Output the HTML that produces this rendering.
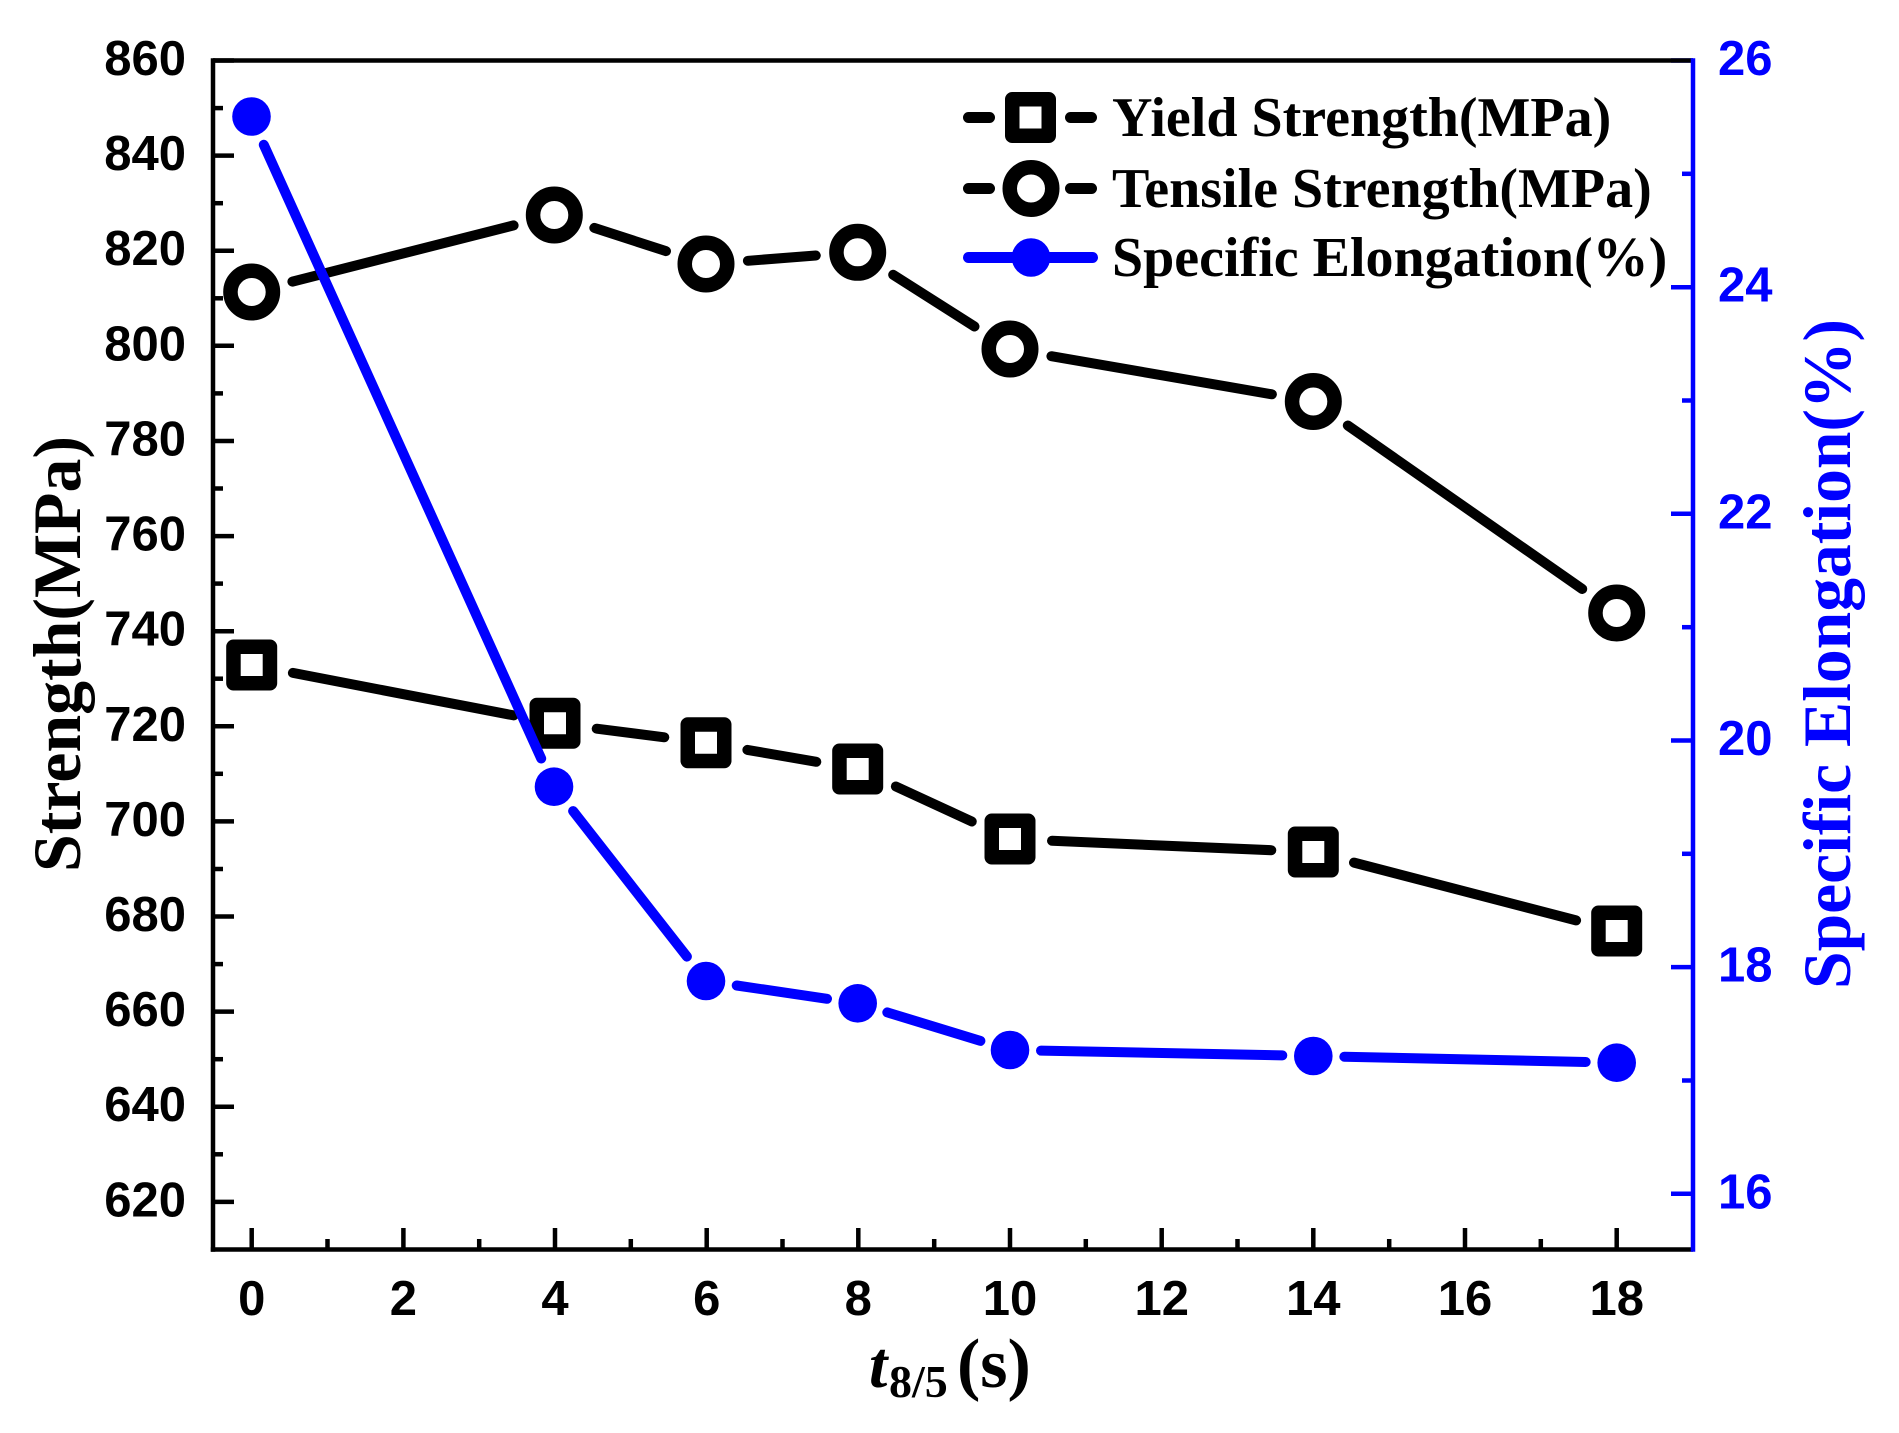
<!DOCTYPE html>
<html>
<head>
<meta charset="utf-8">
<style>
html,body{margin:0;padding:0;background:#fff;}
svg{display:block;}
.tl{font-family:"Liberation Sans",Arial,sans-serif;font-weight:bold;font-size:49px;}
.ser{font-family:"Liberation Serif","Times New Roman",serif;font-weight:bold;}
</style>
</head>
<body>
<svg width="1899" height="1433" viewBox="0 0 1899 1433" xmlns="http://www.w3.org/2000/svg">
<rect width="1899" height="1433" fill="#fff"/>
<g stroke="#000" stroke-width="4.5">
<line x1="213" y1="60.5" x2="234" y2="60.5"/>
<line x1="213" y1="155.6" x2="234" y2="155.6"/>
<line x1="213" y1="250.7" x2="234" y2="250.7"/>
<line x1="213" y1="345.8" x2="234" y2="345.8"/>
<line x1="213" y1="441" x2="234" y2="441"/>
<line x1="213" y1="536.1" x2="234" y2="536.1"/>
<line x1="213" y1="631.2" x2="234" y2="631.2"/>
<line x1="213" y1="726.3" x2="234" y2="726.3"/>
<line x1="213" y1="821.4" x2="234" y2="821.4"/>
<line x1="213" y1="916.5" x2="234" y2="916.5"/>
<line x1="213" y1="1011.6" x2="234" y2="1011.6"/>
<line x1="213" y1="1106.7" x2="234" y2="1106.7"/>
<line x1="213" y1="1201.9" x2="234" y2="1201.9"/>
<line x1="213" y1="108.1" x2="223" y2="108.1"/>
<line x1="213" y1="203.2" x2="223" y2="203.2"/>
<line x1="213" y1="298.3" x2="223" y2="298.3"/>
<line x1="213" y1="393.4" x2="223" y2="393.4"/>
<line x1="213" y1="488.5" x2="223" y2="488.5"/>
<line x1="213" y1="583.6" x2="223" y2="583.6"/>
<line x1="213" y1="678.7" x2="223" y2="678.7"/>
<line x1="213" y1="773.8" x2="223" y2="773.8"/>
<line x1="213" y1="869" x2="223" y2="869"/>
<line x1="213" y1="964.1" x2="223" y2="964.1"/>
<line x1="213" y1="1059.2" x2="223" y2="1059.2"/>
<line x1="213" y1="1154.3" x2="223" y2="1154.3"/>
<line x1="251.7" y1="1249.5" x2="251.7" y2="1228"/>
<line x1="403.4" y1="1249.5" x2="403.4" y2="1228"/>
<line x1="555" y1="1249.5" x2="555" y2="1228"/>
<line x1="706.7" y1="1249.5" x2="706.7" y2="1228"/>
<line x1="858.3" y1="1249.5" x2="858.3" y2="1228"/>
<line x1="1010" y1="1249.5" x2="1010" y2="1228"/>
<line x1="1161.7" y1="1249.5" x2="1161.7" y2="1228"/>
<line x1="1313.3" y1="1249.5" x2="1313.3" y2="1228"/>
<line x1="1465" y1="1249.5" x2="1465" y2="1228"/>
<line x1="1616.7" y1="1249.5" x2="1616.7" y2="1228"/>
<line x1="327.5" y1="1249.5" x2="327.5" y2="1239"/>
<line x1="479.2" y1="1249.5" x2="479.2" y2="1239"/>
<line x1="630.8" y1="1249.5" x2="630.8" y2="1239"/>
<line x1="782.5" y1="1249.5" x2="782.5" y2="1239"/>
<line x1="934.2" y1="1249.5" x2="934.2" y2="1239"/>
<line x1="1085.8" y1="1249.5" x2="1085.8" y2="1239"/>
<line x1="1237.5" y1="1249.5" x2="1237.5" y2="1239"/>
<line x1="1389.2" y1="1249.5" x2="1389.2" y2="1239"/>
<line x1="1540.8" y1="1249.5" x2="1540.8" y2="1239"/>
</g>
<g stroke="#0000ff" stroke-width="4.5">
<line x1="1693" y1="60.5" x2="1671" y2="60.5"/>
<line x1="1693" y1="287.2" x2="1671" y2="287.2"/>
<line x1="1693" y1="513.8" x2="1671" y2="513.8"/>
<line x1="1693" y1="740.5" x2="1671" y2="740.5"/>
<line x1="1693" y1="967.1" x2="1671" y2="967.1"/>
<line x1="1693" y1="1193.8" x2="1671" y2="1193.8"/>
<line x1="1693" y1="173.8" x2="1682" y2="173.8"/>
<line x1="1693" y1="400.5" x2="1682" y2="400.5"/>
<line x1="1693" y1="627.2" x2="1682" y2="627.2"/>
<line x1="1693" y1="853.8" x2="1682" y2="853.8"/>
<line x1="1693" y1="1080.5" x2="1682" y2="1080.5"/>
</g>
<line x1="213" y1="60.5" x2="1693" y2="60.5" stroke="#000" stroke-width="4.5"/>
<line x1="213" y1="58.3" x2="213" y2="1251.7" stroke="#000" stroke-width="4.5"/>
<line x1="210.8" y1="1249.5" x2="1693" y2="1249.5" stroke="#000" stroke-width="4.5"/>
<line x1="1693" y1="58.3" x2="1693" y2="1251.7" stroke="#0000ff" stroke-width="4.5"/>
<g class="tl" text-anchor="end" fill="#000">
<text x="186" y="75">860</text>
<text x="186" y="170.1">840</text>
<text x="186" y="265.2">820</text>
<text x="186" y="360.3">800</text>
<text x="186" y="455.5">780</text>
<text x="186" y="550.6">760</text>
<text x="186" y="645.7">740</text>
<text x="186" y="740.8">720</text>
<text x="186" y="835.9">700</text>
<text x="186" y="931">680</text>
<text x="186" y="1026.1">660</text>
<text x="186" y="1121.2">640</text>
<text x="186" y="1216.4">620</text>
</g>
<g class="tl" text-anchor="middle" fill="#000">
<text x="251.7" y="1315">0</text>
<text x="403.4" y="1315">2</text>
<text x="555" y="1315">4</text>
<text x="706.7" y="1315">6</text>
<text x="858.3" y="1315">8</text>
<text x="1010" y="1315">10</text>
<text x="1161.7" y="1315">12</text>
<text x="1313.3" y="1315">14</text>
<text x="1465" y="1315">16</text>
<text x="1616.7" y="1315">18</text>
</g>
<g class="tl" text-anchor="start" fill="#0000ff">
<text x="1718" y="75">26</text>
<text x="1718" y="301.7">24</text>
<text x="1718" y="528.3">22</text>
<text x="1718" y="755">20</text>
<text x="1718" y="981.6">18</text>
<text x="1718" y="1208.3">16</text>
</g>
<text class="ser" font-size="68" text-anchor="middle" fill="#000" transform="translate(80,654) rotate(-90)" textLength="436" lengthAdjust="spacingAndGlyphs">Strength(MPa)</text>
<text class="ser" font-size="68" text-anchor="middle" fill="#0000ff" transform="translate(1850,654) rotate(-90)" textLength="670" lengthAdjust="spacingAndGlyphs">Specific Elongation(%)</text>
<text class="ser" font-style="italic" font-size="66" x="869" y="1387" fill="#000">t</text>
<text class="ser" font-size="46" x="889" y="1397" fill="#000">8/5</text>
<text class="ser" font-size="70" x="957" y="1387" fill="#000">(s)</text>
<g stroke="#000" stroke-width="10" stroke-linecap="round" fill="none">
<line x1="292.9" y1="672.9" x2="513.8" y2="715.4"/>
<line x1="596.7" y1="728.7" x2="664.3" y2="737.3"/>
<line x1="747.4" y1="749.9" x2="816.3" y2="761.8"/>
<line x1="895.9" y1="786.5" x2="971.8" y2="821.5"/>
<line x1="1052" y1="840.8" x2="1271.3" y2="850.2"/>
<line x1="1354" y1="862.6" x2="1576.1" y2="920.4"/>
<line x1="292.4" y1="281.6" x2="513.6" y2="225.4"/>
<line x1="594.3" y1="227.9" x2="666" y2="251.1"/>
<line x1="747.9" y1="260.8" x2="815.8" y2="255.5"/>
<line x1="893.2" y1="274.8" x2="974.5" y2="326.5"/>
<line x1="1051.4" y1="356.2" x2="1271.9" y2="394.3"/>
<line x1="1347.8" y1="425.5" x2="1582.2" y2="589"/>
</g>
<g stroke="#000" stroke-width="14.5" stroke-linejoin="round" fill="#fff">
<rect x="233.45" y="646.75" width="36.5" height="36.5"/>
<rect x="536.75" y="705.05" width="36.5" height="36.5"/>
<rect x="687.75" y="724.45" width="36.5" height="36.5"/>
<rect x="839.45" y="750.75" width="36.5" height="36.5"/>
<rect x="991.75" y="820.75" width="36.5" height="36.5"/>
<rect x="1295.05" y="833.75" width="36.5" height="36.5"/>
<rect x="1598.45" y="912.75" width="36.5" height="36.5"/>
</g>
<g stroke="#000" stroke-width="14.5" fill="#fff">
<circle cx="251.7" cy="292" r="21.25"/>
<circle cx="554.3" cy="215" r="21.25"/>
<circle cx="706" cy="264" r="21.25"/>
<circle cx="857.7" cy="252.3" r="21.25"/>
<circle cx="1010" cy="349" r="21.25"/>
<circle cx="1313.3" cy="401.5" r="21.25"/>
<circle cx="1616.7" cy="613" r="21.25"/>
</g>
<g stroke="#0000ff" stroke-width="10" stroke-linecap="round" fill="none">
<line x1="263.8" y1="144.8" x2="541.2" y2="758.5"/>
<line x1="573.1" y1="811.1" x2="686.9" y2="956.6"/>
<line x1="736.7" y1="985.5" x2="827" y2="998.8"/>
<line x1="887.3" y1="1012.4" x2="980.4" y2="1040.9"/>
<line x1="1041" y1="1050.6" x2="1282.3" y2="1055.4"/>
<line x1="1344.3" y1="1056.7" x2="1585.7" y2="1062"/>
</g>
<g fill="#0000ff">
<circle cx="251.5" cy="116.5" r="19.3"/>
<circle cx="554" cy="786.7" r="19.3"/>
<circle cx="706" cy="981" r="19.3"/>
<circle cx="857.7" cy="1003.3" r="19.3"/>
<circle cx="1010" cy="1050" r="19.3"/>
<circle cx="1313.3" cy="1056" r="19.3"/>
<circle cx="1616.7" cy="1062.7" r="19.3"/>
</g>
<g stroke="#000" stroke-width="11" stroke-linecap="round">
<line x1="968.5" y1="117.5" x2="989.5" y2="117.5"/>
<line x1="1070.5" y1="117.5" x2="1091.5" y2="117.5"/>
<line x1="968.5" y1="188.5" x2="989.5" y2="188.5"/>
<line x1="1070.5" y1="188.5" x2="1091.5" y2="188.5"/>
</g>
<rect x="1012.25" y="99.25" width="36.5" height="36.5" stroke="#000" stroke-width="14.5" stroke-linejoin="round" fill="#fff"/>
<circle cx="1031" cy="188.5" r="21.25" stroke="#000" stroke-width="14.5" fill="#fff"/>
<line x1="968.5" y1="257.5" x2="1092.5" y2="257.5" stroke="#0000ff" stroke-width="11" stroke-linecap="round"/>
<circle cx="1031" cy="257.5" r="19.3" fill="#0000ff"/>
<g class="ser" font-size="56" fill="#000">
<text x="1112" y="136">Yield Strength(MPa)</text>
<text x="1112" y="207">Tensile Strength(MPa)</text>
<text x="1112" y="276">Specific Elongation(%)</text>
</g>
</svg>
</body>
</html>
